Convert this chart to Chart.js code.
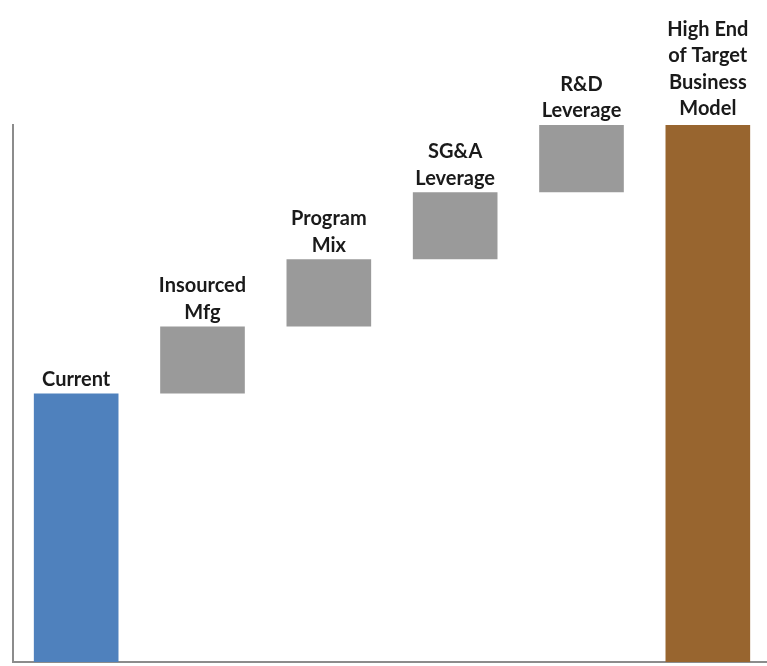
<!DOCTYPE html>
<html>
<head>
<meta charset="utf-8">
<script src="https://cdn.jsdelivr.net/npm/chart.js@4/dist/chart.umd.min.js"></script>
<style>
    html, body { margin: 0; padding: 0; background: #fff; overflow: hidden; }
    #wrap { position: relative; width: 772px; height: 666px; }
</style>
</head>
<body>
<div id="wrap"><canvas id="bridge"></canvas></div>
<script>
// Waterfall data
const categories = ["Current", "Insourced\nMfg", "Program\nMix", "SG&A\nLeverage", "R&D\nLeverage", "High End\nof Target\nBusiness\nModel"];
const barStart = [0, 40, 50, 60, 70, 0];
const barEnd = [40, 50, 60, 70, 80, 80.3];
const barColors = ["#4F81BD", "#9A9A9A", "#9A9A9A", "#9A9A9A", "#9A9A9A", "#98652F"];

// Draw the multi-line labels above each bar
const barLabels = {
    id: "barLabels",
    afterDatasetsDraw: function (chart) {
        const ctx = chart.ctx;
        const meta = chart.getDatasetMeta(0);
        ctx.save();
        ctx.font = "bold 20px Lato";
        ctx.fillStyle = "#1a1a1a";
        ctx.textAlign = "center";
        ctx.textBaseline = "bottom";
        meta.data.forEach(function (bar, i) {
            const lines = categories[i].split("\n");
            let y = bar.y - 4;
            for (let k = lines.length - 1; k >= 0; k--) {
                ctx.fillText(lines[k], bar.x, y);
                y -= 26.5;
            }
        });
        ctx.restore();
    }
};

var ctx = document.getElementById("bridge").getContext("2d");
new Chart(ctx, {
    type: "bar",
    data: {
        labels: categories.map(function (c) { return c.replace(/\n/g, " "); }),
        datasets: [{
            data: barStart.map(function (s, i) { return [s, barEnd[i]]; }),
            backgroundColor: barColors,
            borderWidth: 0,
            barPercentage: 0.67,
            categoryPercentage: 1.0
        }]
    },
    options: {
        responsive: true,
        maintainAspectRatio: false,
        animation: false,
        layout: { padding: { top: 125, left: 13, right: 1, bottom: 4 } },
        plugins: {
            legend: { display: false },
            tooltip: { enabled: false }
        },
        scales: {
            x: {
                grid: { display: false },
                ticks: { display: false },
                border: { display: true, color: "#8c8c8c", width: 2 },
                afterFit: function (scale) { scale.height = 0; }
            },
            y: {
                min: 0,
                max: 80,
                grid: { display: false },
                ticks: { display: false },
                border: { display: true, color: "#8c8c8c", width: 2 },
                afterFit: function (scale) { scale.width = 0; }
            }
        }
    },
    plugins: [barLabels]
});
</script>
</body>
</html>
